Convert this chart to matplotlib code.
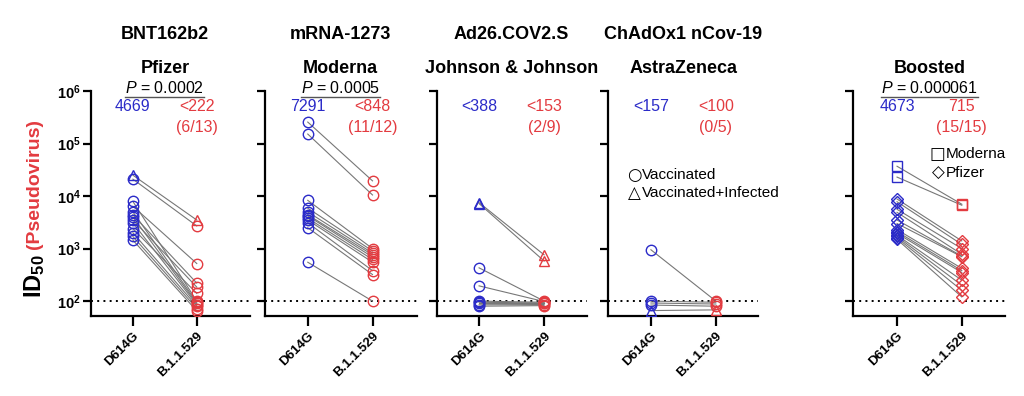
import numpy as np
import matplotlib
matplotlib.use('Agg')
from matplotlib import pyplot as plt
from matplotlib import transforms
from matplotlib.lines import Line2D

plt.rcParams['font.family'] = ['Liberation Sans', 'DejaVu Sans']
plt.rcParams['mathtext.fontset'] = 'custom'
plt.rcParams['mathtext.rm'] = 'Liberation Sans'
plt.rcParams['mathtext.it'] = 'Liberation Sans:italic'
plt.rcParams['mathtext.bf'] = 'Liberation Sans:bold'

# data
variants = ['D614G', 'B.1.1.529']
vaccines = ['BNT162b2', 'mRNA-1273', 'Ad26.COV2.S', 'ChAdOx1 nCov-19', '']
makers = ['Pfizer', 'Moderna', 'Johnson & Johnson', 'AstraZeneca', 'Boosted']
p_values = ['0.0002', '0.0005', None, None, '0.000061']
gmt_d614g = ['4669', '7291', '<388', '<157', '4673']
gmt_omicron = ['<222', '<848', '<153', '<100', '715']
above_limit = ['(6/13)', '(11/12)', '(2/9)', '(0/5)', '(15/15)']
detection_limit = 100

pfizer_d614g = [25000, 21000, 7900, 6400, 5000, 4400, 4000, 3500, 3100, 2400, 2000, 1700, 1450]
pfizer_omicron = [3500, 2700, 100, 520, 95, 220, 90, 185, 85, 140, 80, 72, 65]
pfizer_marks = ['^', 'o', 'o', 'o', 'o', 'o', 'o', 'o', 'o', 'o', 'o', 'o', 'o']

moderna_d614g = [257000, 152000, 8300, 5900, 5000, 4400, 4200, 3800, 3500, 3100, 2500, 550]
moderna_omicron = [19500, 10500, 1000, 900, 820, 760, 690, 620, 550, 380, 320, 100]
moderna_marks = ['o'] * 12

jj_d614g = [7500, 7200, 430, 195, 100, 95, 90, 85, 80]
jj_omicron = [760, 580, 100, 98, 95, 92, 90, 86, 82]
jj_marks = ['^', '^', 'o', 'o', 'o', 'o', 'o', 'o', 'o']

az_d614g = [950, 100, 92, 84, 66]
az_omicron = [100, 95, 88, 80, 68]
az_marks = ['o', 'o', 'o', 'o', '^']

boost_d614g = [37000, 23000, 8800, 7800, 5600, 4900, 3500, 3000, 2300, 2100, 1950, 1800, 1700, 1600, 1500]
boost_omicron = [7000, 6700, 1400, 1200, 1000, 780, 720, 700, 420, 380, 350, 250, 200, 160, 120]
boost_marks = ['s', 's'] + ['D'] * 13

panels = [
    (pfizer_d614g, pfizer_omicron, pfizer_marks),
    (moderna_d614g, moderna_omicron, moderna_marks),
    (jj_d614g, jj_omicron, jj_marks),
    (az_d614g, az_omicron, az_marks),
    (boost_d614g, boost_omicron, boost_marks),
]

blue = '#2b2bc8'
red = '#e33b40'

# layout (figure fraction) and x limits per panel
rects = [
    [0.0889, 0.202, 0.155, 0.568],
    [0.2588, 0.202, 0.148, 0.568],
    [0.4268, 0.202, 0.1465, 0.568],
    [0.5938, 0.202, 0.1465, 0.568],
    [0.8330, 0.202, 0.148, 0.568],
]
xlims = [(-0.656, 1.83), (-0.66, 1.68), (-0.646, 1.66), (-0.66, 1.65), (-0.68, 1.66)]

fig = plt.figure(figsize=(10.24, 3.96), dpi=100)
p_texts = []
axes = []
for i, (d, o, marks) in enumerate(panels):
    ax = fig.add_axes(rects[i])
    axes.append(ax)
    ax.set_yscale('log')
    ax.set_ylim(52, 1e6)
    ax.set_xlim(*xlims[i])
    for a, b, m in zip(d, o, marks):
        ax.plot([0, 1], [a, b], color='#777777', lw=0.8, zorder=1)
        ms = 6 if m == 'D' else 7.5
        ax.plot(0, a, marker=m, ms=ms, mfc='none', mec=blue, mew=1.0, zorder=3)
        ax.plot(1, b, marker=m, ms=ms, mfc='none', mec=red, mew=1.0, zorder=3)
    ax.axhline(detection_limit, color='black', ls=(0, (1, 2.2)), lw=1.4, zorder=0)

    for s in ['top', 'right']:
        ax.spines[s].set_visible(False)
    for s in ['left', 'bottom']:
        ax.spines[s].set_linewidth(1.6)
    ax.set_yticks([1e2, 1e3, 1e4, 1e5, 1e6])
    ax.yaxis.set_minor_locator(matplotlib.ticker.NullLocator())
    ax.tick_params(axis='y', length=6, width=1.6, direction='out', pad=1.5)
    ax.tick_params(axis='x', length=7, width=1.6, direction='out', pad=3)
    if i == 0:
        ax.set_yticklabels([r'$\mathbf{10^{%d}}$' % k for k in range(2, 7)], fontsize=10.5)
    else:
        ax.set_yticklabels([])
    ax.set_xticks([0, 1])
    ax.set_xticklabels(variants, rotation=45, ha='right', rotation_mode='anchor',
                       fontsize=9.5, fontweight='bold')

    tr = transforms.blended_transform_factory(ax.transData, fig.transFigure)
    if vaccines[i]:
        ax.text(0.5, 0.912, vaccines[i], transform=tr, ha='center', va='center',
                fontsize=13, fontweight='bold')
    ax.text(0.5, 0.828, makers[i], transform=tr, ha='center', va='center',
            fontsize=13, fontweight='bold')
    if p_values[i]:
        t = ax.text(0.5, 0.778, r'$\it{P}$ = ' + p_values[i], transform=tr,
                    ha='center', va='center', fontsize=11.5)
        p_texts.append(t)
    ax.text(0, 0.732, gmt_d614g[i], transform=tr, ha='center', va='center',
            fontsize=11.5, color=blue)
    ax.text(1, 0.732, gmt_omicron[i], transform=tr, ha='center', va='center',
            fontsize=11.5, color=red)
    ax.text(1, 0.679, above_limit[i], transform=tr, ha='center', va='center',
            fontsize=11.5, color=red)

# marker keys
for ax, x_sym, x_lab, keys in [
        (axes[3], -0.26, -0.14, [('○', 'Vaccinated', 4.4), ('△', 'Vaccinated+Infected', 4.06)]),
        (axes[4], 0.63, 0.75, [('□', 'Moderna', 4.8), ('◇', 'Pfizer', 4.44)])]:
    for sym, lab, ly in keys:
        ax.text(x_sym, 10**ly, sym, fontsize=12, ha='center', va='center',
                family=['DejaVu Sans'])
        ax.text(x_lab, 10**ly, lab, fontsize=11, ha='left', va='center')

# y label in two colours
id_text = fig.text(0.034, 0.247, r'$\mathbf{ID_{50}}$', rotation=90, ha='center',
                   va='bottom', fontsize=17)
fig.canvas.draw()
renderer = fig.canvas.get_renderer()
bb = id_text.get_window_extent(renderer).transformed(fig.transFigure.inverted())
fig.text(0.034, bb.y1 + 0.014, '(Pseudovirus)', rotation=90, ha='center', va='bottom',
         fontsize=14, fontweight='bold', color=red)

# underline the P values
for t in p_texts:
    bb = t.get_window_extent(renderer).transformed(fig.transFigure.inverted())
    fig.add_artist(Line2D([bb.x0, bb.x1], [bb.y0 - 0.004, bb.y0 - 0.004],
                          transform=fig.transFigure, color='#555555', lw=1.0))

fig.savefig('out.png', dpi=100)
